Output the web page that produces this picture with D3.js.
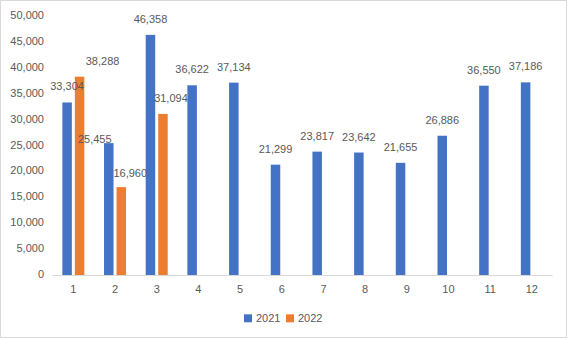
<!DOCTYPE html>
<html>
<head>
<meta charset="utf-8">
<script src="https://cdn.jsdelivr.net/npm/d3@7"></script>
<style>
  html, body { margin: 0; padding: 0; background: #fff; }
  svg { display: block; }
  text { font-family: "Liberation Sans", Arial, sans-serif; font-size: 11px; fill: #595959; }
</style>
</head>
<body>
<svg id="chart" width="568" height="338"></svg>
<script>
const months = ["1","2","3","4","5","6","7","8","9","10","11","12"];
const seriesNames = ["2021", "2022"];
const values2021 = [33304, 25455, 46358, 36622, 37134, 21299, 23817, 23642, 21655, 26886, 36550, 37186];
const values2022 = [38288, 16960, 31094];
const yTicks = [0, 5000, 10000, 15000, 20000, 25000, 30000, 35000, 40000, 45000, 50000];
const colors = ["#4472C4", "#ED7D31"];

// manual label nudges (layout only), keyed by series index and month index
const labelNudge = { "0-1": [-14, 12], "1-0": [23, 0], "1-1": [9, 2], "1-2": [8, 0] };

const svg = d3.select("#chart");
const margin = { left: 52.5, right: 552.7, top: 16, bottom: 275 };

svg.append("rect").attr("x", 0.5).attr("y", 0.5).attr("width", 566).attr("height", 337)
  .attr("fill", "#fff").attr("stroke", "#d9d9d9").attr("stroke-width", 1);

const x = d3.scaleBand().domain(months).range([margin.left, margin.right]);
const y = d3.scaleLinear().domain([0, 50000]).range([margin.bottom, margin.top]);
const fmt = d3.format(",");
const barW = 9.5, gap = 3;

// y axis labels
const yAxis = d3.axisLeft(y).tickValues(yTicks).tickFormat(fmt).tickSize(0).tickPadding(0);
const gy = svg.append("g").attr("transform", "translate(44,-1)").call(yAxis);
gy.select(".domain").remove();
gy.selectAll("text").attr("fill", "#595959").style("font-size", "11px")
  .style("font-family", '"Liberation Sans", Arial, sans-serif');

// x axis
const xAxis = d3.axisBottom(x).tickSize(0).tickPadding(10);
const gx = svg.append("g").attr("transform", `translate(0,${margin.bottom})`).call(xAxis);
gx.select(".domain").attr("stroke", "#d9d9d9").attr("d", `M${margin.left},0.5H${margin.right}`);
gx.selectAll("text").attr("fill", "#595959").style("font-size", "11px")
  .style("font-family", '"Liberation Sans", Arial, sans-serif');

const series = [values2021, values2022];
const barsG = svg.append("g");
const labelsG = svg.append("g");
series.forEach((vals, si) => {
  const data = vals.map((v, i) => ({ m: months[i], v, i }));
  const bx = d => x(d.m) + x.bandwidth() / 2 + (si === 0 ? -gap / 2 - barW : gap / 2);
  barsG.append("g").selectAll("rect").data(data).join("rect")
    .attr("x", bx).attr("y", d => y(d.v))
    .attr("width", barW).attr("height", d => y(0) - y(d.v))
    .attr("fill", colors[si]);
  labelsG.append("g").selectAll("text").data(data).join("text")
    .attr("x", d => bx(d) + barW / 2 + ((labelNudge[si + "-" + d.i] || [0, 0])[0]))
    .attr("y", d => y(d.v) - 12 + ((labelNudge[si + "-" + d.i] || [0, 0])[1]))
    .attr("text-anchor", "middle")
    .text(d => fmt(d.v));
});

// legend
const legend = svg.append("g").attr("transform", "translate(244,314)");
const legX = [0, 42];
seriesNames.forEach((name, i) => {
  legend.append("rect").attr("x", legX[i]).attr("y", 0.3).attr("width", 8).attr("height", 8).attr("fill", colors[i]);
  legend.append("text").attr("x", legX[i] + 12).attr("y", 7.5).text(name);
});
</script>
</body>
</html>
